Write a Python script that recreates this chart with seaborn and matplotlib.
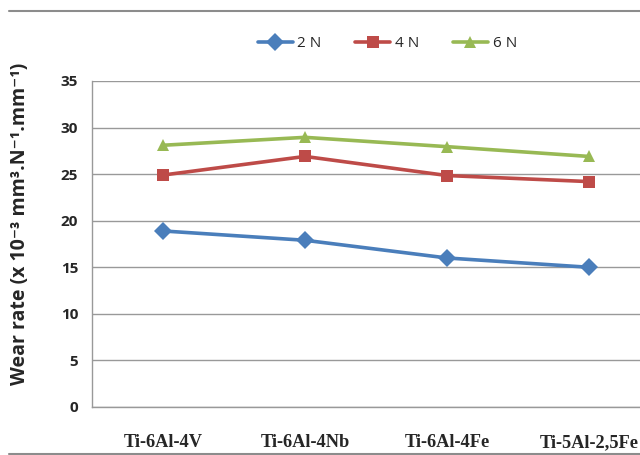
import matplotlib
matplotlib.use("Agg")
import matplotlib.pyplot as plt
from matplotlib.lines import Line2D
import seaborn as sns
import pandas as pd

alloys = ["Ti-6Al-4V", "Ti-6Al-4Nb", "Ti-6Al-4Fe", "Ti-5Al-2,5Fe"]
load_labels = ["2 N", "4 N", "6 N"]
wear_2n = [18.9, 17.9, 16.0, 15.0]
wear_4n = [24.9, 26.9, 24.85, 24.2]
wear_6n = [28.1, 28.95, 27.95, 26.9]
y_ticks = [0, 5, 10, 15, 20, 25, 30, 35]

df = pd.DataFrame({
    "alloy": alloys * 3,
    "load": [l for l in load_labels for _ in alloys],
    "wear": wear_2n + wear_4n + wear_6n,
})

sns.set_style("white")
plt.rcParams["font.family"] = ["Open Sans", "DejaVu Sans"]

palette = {"2 N": "#4A7EBB", "4 N": "#BE4B48", "6 N": "#98B954"}
markers = {"2 N": "D", "4 N": "s", "6 N": "^"}

fig = plt.figure(figsize=(6.4, 4.55), dpi=100)
ax = fig.add_axes([0.1437, 0.1055, 0.8875, 0.7165])

sns.lineplot(data=df, x="alloy", y="wear", hue="load", style="load",
             palette=palette, markers=markers, dashes=False, linewidth=2.6,
             markersize=9, markeredgewidth=0, ax=ax, sort=False)

ax.set_xlim(-0.5, 3.5)
ax.set_ylim(0, 35)
ax.set_yticks(y_ticks)
ax.set_yticklabels([str(t) for t in y_ticks], fontsize=11, fontweight="bold")
ax.yaxis.grid(True, color="#999999", linewidth=1.0)
ax.xaxis.grid(False)
ax.set_axisbelow(True)
for s in ["top", "right"]:
    ax.spines[s].set_visible(False)
for s in ["left", "bottom"]:
    ax.spines[s].set_color("#999999")
    ax.spines[s].set_linewidth(1.0)
ax.tick_params(axis="y", length=0, pad=10)
for lbl in ax.get_xticklabels():
    lbl.set_fontfamily("Liberation Serif")
    lbl.set_fontweight("bold")
    lbl.set_fontsize(13.2)
    lbl.set_verticalalignment("baseline")
ax.tick_params(axis="x", length=0, pad=29)

ax.set_xlabel("")
ax.set_ylabel("Wear rate (x 10⁻³ mm³.N⁻¹.mm⁻¹)",
              fontsize=14, fontweight="bold")
ax.yaxis.set_label_coords(-0.109, 0.561)

handles, labels = ax.get_legend_handles_labels()
ax.legend(handles, labels, loc="center", bbox_to_anchor=(0.52, 1.115),
          ncol=3, frameon=False, fontsize=11, handlelength=2.3,
          columnspacing=2.2, handletextpad=0.3)

# chart frame lines
fig.add_artist(Line2D([0.014, 1.0], [0.976, 0.976], color="#8c8c8c",
                      linewidth=1.5, transform=fig.transFigure))
fig.add_artist(Line2D([0.014, 1.0], [0.002, 0.002], color="#8c8c8c",
                      linewidth=1.5, transform=fig.transFigure))

fig.savefig("out.png", dpi=100)
